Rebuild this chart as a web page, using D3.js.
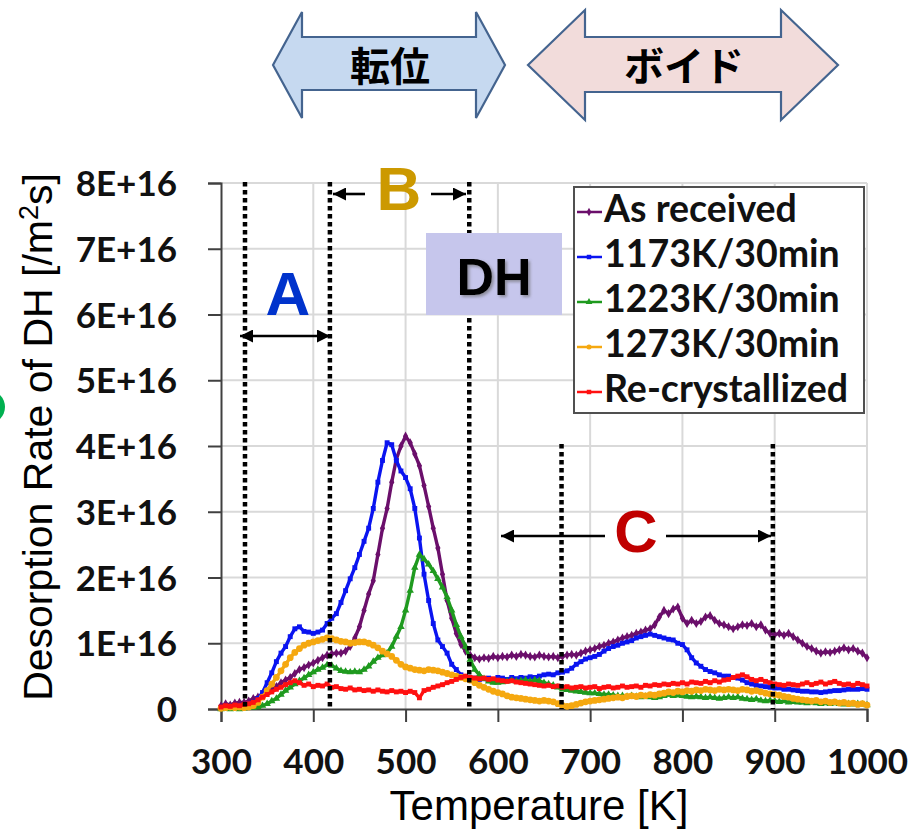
<!DOCTYPE html>
<html><head><meta charset="utf-8">
<script src="https://cdn.jsdelivr.net/npm/d3@7"></script>
<style>
html,body{margin:0;padding:0;background:#fff;}
svg{display:block;}
</style></head>
<body>
<svg id="chart" width="912" height="829"></svg>
<script>
// ---------- DATA (values in units of 1E+16 /m2s) ----------
const temperatures = d3.range(300, 1001, 5);
const seriesNames = ["As received","1173K/30min","1223K/30min","1273K/30min","Re-crystallized"];
const seriesColors = ["#6b0f6b","#0a14f0","#1f9a1f","#f5a810","#ff1010"];
const yTickValues = [0,1,2,3,4,5,6,7,8];
const xTickValues = [300,400,500,600,700,800,900,1000];

const asReceived = [0.05,0.08,0.06,0.09,0.10,0.10,0.12,0.16,0.18,0.22,0.26,0.30,0.34,0.40,0.44,0.48,0.54,0.60,0.63,0.67,
0.70,0.74,0.78,0.82,0.84,0.85,0.85,0.88,0.95,1.08,1.25,1.50,1.75,1.95,2.35,2.75,3.05,3.45,3.80,4.00,
4.15,4.05,3.88,3.70,3.40,3.08,2.75,2.45,2.05,1.65,1.38,1.15,0.98,0.88,0.82,0.78,0.76,0.78,0.77,0.80,
0.78,0.80,0.79,0.82,0.80,0.83,0.82,0.80,0.79,0.82,0.80,0.79,0.80,0.78,0.80,0.82,0.83,0.82,0.85,0.88,
0.90,0.92,0.95,0.97,1.00,1.02,1.05,1.08,1.10,1.12,1.15,1.17,1.20,1.22,1.28,1.40,1.50,1.45,1.52,1.55,
1.38,1.30,1.35,1.30,1.33,1.40,1.42,1.35,1.30,1.28,1.25,1.22,1.25,1.28,1.27,1.30,1.25,1.28,1.20,1.15,
1.13,1.15,1.12,1.15,1.10,1.05,1.00,0.95,0.92,0.88,0.85,0.87,0.86,0.88,0.90,0.93,0.90,0.92,0.88,0.85,0.78];

const k1173 = [0.02,0.03,0.02,0.04,0.05,0.06,0.08,0.10,0.16,0.25,0.40,0.55,0.72,0.85,0.95,1.10,1.22,1.25,1.18,1.17,
1.15,1.17,1.20,1.30,1.38,1.45,1.62,1.80,1.98,2.15,2.35,2.55,2.75,3.05,3.45,3.78,4.05,4.02,3.78,3.62,
3.52,3.35,3.05,2.60,2.05,1.65,1.30,1.05,0.95,0.85,0.68,0.60,0.52,0.48,0.46,0.47,0.45,0.46,0.47,0.45,
0.48,0.47,0.45,0.48,0.46,0.48,0.47,0.49,0.48,0.50,0.52,0.53,0.52,0.55,0.56,0.58,0.62,0.68,0.72,0.76,
0.78,0.80,0.83,0.88,0.92,0.95,0.97,1.00,1.02,1.04,1.08,1.10,1.12,1.14,1.12,1.10,1.08,1.06,1.05,1.00,
0.98,0.90,0.78,0.70,0.65,0.60,0.57,0.55,0.52,0.50,0.50,0.48,0.47,0.44,0.40,0.38,0.36,0.35,0.34,0.33,
0.32,0.32,0.30,0.30,0.29,0.28,0.27,0.27,0.26,0.26,0.25,0.26,0.27,0.28,0.28,0.29,0.30,0.30,0.30,0.31,0.30];

const k1223 = [0.00,0.01,0.00,0.01,0.00,0.01,0.02,0.02,0.03,0.05,0.08,0.12,0.16,0.22,0.28,0.33,0.38,0.43,0.47,0.52,
0.56,0.60,0.63,0.67,0.66,0.62,0.58,0.57,0.56,0.57,0.56,0.60,0.65,0.72,0.78,0.82,0.85,0.95,1.10,1.25,
1.50,1.80,2.15,2.35,2.28,2.20,2.10,1.98,1.85,1.70,1.50,1.28,1.10,0.95,0.75,0.60,0.52,0.46,0.42,0.40,
0.40,0.41,0.42,0.43,0.42,0.43,0.44,0.42,0.44,0.43,0.40,0.38,0.36,0.33,0.30,0.29,0.28,0.27,0.26,0.25,
0.24,0.24,0.23,0.22,0.22,0.21,0.20,0.20,0.19,0.20,0.19,0.18,0.19,0.18,0.17,0.18,0.20,0.22,0.20,0.21,
0.20,0.19,0.18,0.19,0.18,0.17,0.18,0.17,0.16,0.17,0.18,0.17,0.18,0.16,0.15,0.14,0.15,0.13,0.12,0.13,
0.12,0.11,0.12,0.10,0.11,0.10,0.10,0.09,0.10,0.09,0.08,0.09,0.08,0.09,0.08,0.07,0.08,0.07,0.08,0.07,0.06];

const k1273 = [0.01,0.02,0.03,0.02,0.03,0.02,0.03,0.05,0.10,0.18,0.28,0.38,0.48,0.58,0.68,0.78,0.86,0.92,0.97,1.00,
1.02,1.04,1.06,1.08,1.07,1.05,1.03,1.02,1.00,1.01,1.02,1.02,1.00,0.97,0.93,0.88,0.84,0.80,0.74,0.68,
0.64,0.62,0.60,0.59,0.58,0.60,0.59,0.58,0.56,0.54,0.52,0.50,0.48,0.46,0.44,0.40,0.36,0.33,0.30,0.27,
0.25,0.23,0.20,0.18,0.17,0.16,0.15,0.14,0.13,0.12,0.13,0.12,0.11,0.08,0.05,0.04,0.05,0.07,0.09,0.11,
0.12,0.13,0.14,0.15,0.16,0.17,0.18,0.17,0.19,0.20,0.19,0.21,0.20,0.22,0.21,0.23,0.24,0.26,0.25,0.27,
0.26,0.28,0.27,0.29,0.28,0.30,0.29,0.28,0.30,0.29,0.30,0.29,0.28,0.30,0.29,0.27,0.28,0.26,0.24,0.23,
0.22,0.21,0.19,0.18,0.16,0.15,0.14,0.13,0.12,0.13,0.11,0.12,0.10,0.11,0.09,0.10,0.08,0.09,0.07,0.08,0.06];

const recrystallized = [0.03,0.05,0.04,0.06,0.05,0.07,0.08,0.10,0.14,0.18,0.22,0.26,0.30,0.33,0.37,0.40,0.43,0.40,0.36,0.38,
0.34,0.36,0.35,0.38,0.33,0.34,0.31,0.30,0.32,0.29,0.30,0.28,0.29,0.27,0.29,0.27,0.26,0.28,0.26,0.27,
0.25,0.27,0.25,0.17,0.28,0.30,0.33,0.35,0.37,0.40,0.42,0.45,0.48,0.50,0.48,0.47,0.46,0.47,0.45,0.46,
0.44,0.43,0.42,0.43,0.41,0.40,0.39,0.38,0.37,0.36,0.35,0.36,0.34,0.35,0.33,0.34,0.32,0.33,0.34,0.32,
0.33,0.34,0.31,0.33,0.34,0.32,0.33,0.35,0.33,0.34,0.35,0.33,0.36,0.35,0.37,0.36,0.38,0.37,0.39,0.38,
0.40,0.38,0.41,0.40,0.39,0.42,0.40,0.43,0.41,0.44,0.45,0.48,0.50,0.52,0.49,0.45,0.43,0.45,0.42,0.40,
0.38,0.37,0.36,0.38,0.37,0.36,0.38,0.40,0.37,0.39,0.41,0.38,0.40,0.42,0.39,0.37,0.38,0.36,0.39,0.37,0.35];

const allSeries = [asReceived, k1173, k1223, k1273, recrystallized];

// annotation temperatures
const dottedFull = [326, 418, 569];
const dottedLow = [669, 898];

// ---------- DRAW ----------
const svg = d3.select("#chart");
const x = d3.scaleLinear().domain([300,1000]).range([221,867]);
const y = d3.scaleLinear().domain([0,8e16]).range([709,183]);
const E = 1e16;

const defs = svg.append("defs");
const f = defs.append("filter").attr("id","shadow").attr("x","-20%").attr("y","-20%").attr("width","140%").attr("height","140%");
f.append("feDropShadow").attr("dx",2).attr("dy",2).attr("stdDeviation",1.5).attr("flood-color","#666").attr("flood-opacity",0.6);

// top double arrows
function dblArrow(x0, x1, headW, yTop, yBot, shaftTop, shaftBot, fill) {
  const ym = (yTop + yBot) / 2;
  const p = [[x0,ym],[x0+headW,yTop],[x0+headW,shaftTop],[x1-headW,shaftTop],[x1-headW,yTop],[x1,ym],
             [x1-headW,yBot],[x1-headW,shaftBot],[x0+headW,shaftBot],[x0+headW,yBot]];
  svg.append("path").attr("d", "M" + p.map(d => d.join(",")).join("L") + "Z")
    .attr("fill", fill).attr("stroke", "#44648f").attr("stroke-width", 2.2).attr("stroke-linejoin","miter");
}
dblArrow(273, 505, 29, 12, 118, 37, 90, "#c6d9f0");
dblArrow(528, 838, 57, 10, 120, 37, 92, "#f2dcdb");
svg.append("text").attr("x", 390).attr("y", 81).attr("text-anchor","middle")
  .attr("font-family","'Noto Sans CJK JP'").attr("font-weight",700).attr("font-size",40).attr("fill","#000").text("転位");
svg.append("text").attr("x", 684).attr("y", 81).attr("text-anchor","middle")
  .attr("font-family","'Noto Sans CJK JP'").attr("font-weight",700).attr("font-size",40).attr("fill","#000").text("ボイド");

// green circle at left edge
svg.append("circle").attr("cx",-12).attr("cy",407).attr("r",17).attr("fill","#00b050");

// gridlines
const grid = svg.append("g");
grid.selectAll("line.h").data(yTickValues.slice(1)).join("line")
  .attr("x1", x(300)).attr("x2", x(1000)).attr("y1", d => y(d*E)).attr("y2", d => y(d*E))
  .attr("stroke","#d9d9d9").attr("stroke-width",2);
grid.selectAll("line.v").data(xTickValues.slice(1)).join("line")
  .attr("x1", d => x(d)).attr("x2", d => x(d)).attr("y1", y(0)).attr("y2", y(8*E))
  .attr("stroke","#d9d9d9").attr("stroke-width",2);

// axes
const yAxis = svg.append("g").attr("transform", `translate(${x(300)},0)`)
  .call(d3.axisLeft(y).tickValues(yTickValues.map(v => v*E)).tickSize(13).tickPadding(31)
    .tickFormat(d => d === 0 ? "0" : (d/E) + "E+16"));
const xAxis = svg.append("g").attr("transform", `translate(0,${y(0)})`)
  .call(d3.axisBottom(x).tickValues(xTickValues).tickSize(13).tickPadding(30).tickFormat(d3.format("d")));
[yAxis, xAxis].forEach(a => {
  a.select(".domain").attr("stroke","#404040").attr("stroke-width",2);
  a.selectAll(".tick line").attr("stroke","#404040").attr("stroke-width",2);
  a.selectAll(".tick text").attr("font-family","Lato").attr("font-weight",700).attr("font-size",35).attr("fill","#111");
});
yAxis.selectAll(".tick text").attr("dy","0.36em");
xAxis.selectAll(".tick text").attr("dy","0.62em");

// axis titles
svg.append("text").attr("x", 539).attr("y", 820).attr("text-anchor","middle")
  .attr("font-family","'Liberation Sans'").attr("font-size",42).attr("fill","#000").text("Temperature [K]");
const yt = svg.append("text").attr("transform","translate(52,437) rotate(-90)").attr("text-anchor","middle")
  .attr("font-family","'Liberation Sans'").attr("font-size",41).attr("fill","#000");
yt.append("tspan").text("Desorption Rate of DH [/m");
yt.append("tspan").attr("dy",-14).attr("font-size",27).text("2");
yt.append("tspan").attr("dy",14).text("s]");

// series
const symbols = [d3.symbolDiamond, d3.symbolSquare, d3.symbolTriangle, d3.symbolCircle, d3.symbolSquare];
const line = d3.line().x((d,i) => x(temperatures[i])).y(d => y(d*E));
allSeries.forEach((s, k) => {
  const g = svg.append("g");
  g.append("path").attr("d", line(s)).attr("fill","none").attr("stroke", seriesColors[k])
    .attr("stroke-width", 3.4).attr("stroke-linejoin","round");
  g.selectAll("path.m").data(s).join("path").attr("class","m")
    .attr("transform", (d,i) => `translate(${x(temperatures[i])},${y(d*E)})`)
    .attr("d", d3.symbol().type(symbols[k]).size(k === 3 ? 36 : 24)).attr("fill", seriesColors[k]);
});

// dotted lines
const dot = {stroke:"#000", "stroke-width":4.5, "stroke-dasharray":"4.5,3.5"};
function applyAttrs(sel, o){ Object.entries(o).forEach(([k,v]) => sel.attr(k,v)); return sel; }
dottedFull.forEach(t => applyAttrs(svg.append("line").attr("x1",x(t)).attr("x2",x(t)).attr("y1",182).attr("y2",709), dot));
dottedLow.forEach(t => applyAttrs(svg.append("line").attr("x1",x(t)).attr("x2",x(t)).attr("y1",444).attr("y2",709), dot));

// arrow marker
defs.append("marker").attr("id","ah").attr("viewBox","0 0 10 10").attr("refX",10).attr("refY",5)
  .attr("markerWidth",5).attr("markerHeight",5).attr("orient","auto-start-reverse").attr("markerUnits","strokeWidth")
  .append("path").attr("d","M0,0L10,5L0,10Z").attr("fill","#000");
function arrowLine(xa, xb, yy, start, end) {
  const l = svg.append("line").attr("x1",xa).attr("x2",xb).attr("y1",yy).attr("y2",yy)
    .attr("stroke","#000").attr("stroke-width",2.6);
  if (start) l.attr("marker-start","url(#ah)");
  if (end) l.attr("marker-end","url(#ah)");
}
// A
arrowLine(240, 330, 336, true, true);
svg.append("text").attr("x",288).attr("y",315).attr("text-anchor","middle").attr("font-family","'Liberation Sans'")
  .attr("font-weight",700).attr("font-size",62).attr("fill","#0033cc").text("A");
// B
arrowLine(365, 333, 194, false, true);
arrowLine(431, 466, 194, false, true);
svg.append("text").attr("x",399).attr("y",210).attr("text-anchor","middle").attr("font-family","'Liberation Sans'")
  .attr("font-weight",700).attr("font-size",62).attr("fill","#cc9900").text("B");
// C
arrowLine(605, 501, 536, false, true);
arrowLine(666, 771, 536, false, true);
svg.append("text").attr("x",636).attr("y",552).attr("text-anchor","middle").attr("font-family","'Liberation Sans'")
  .attr("font-weight",700).attr("font-size",60).attr("fill","#c00000").text("C");

// DH box
svg.append("rect").attr("x",426).attr("y",233).attr("width",136).attr("height",82).attr("fill","#c6c6ec");
svg.append("text").attr("x",494).attr("y",295).attr("text-anchor","middle").attr("font-family","'Liberation Sans'")
  .attr("font-weight",700).attr("font-size",52).attr("fill","#000").attr("filter","url(#shadow)").text("DH");

// legend
const lg = svg.append("g");
lg.append("rect").attr("x",574).attr("y",187).attr("width",290).attr("height",226)
  .attr("fill","#fff").attr("stroke","#505050").attr("stroke-width",2);
seriesNames.forEach((n, k) => {
  const by = 222 + k*45;
  lg.append("line").attr("x1",577).attr("x2",602).attr("y1",by-10).attr("y2",by-10)
    .attr("stroke",seriesColors[k]).attr("stroke-width",2.5);
  lg.append("path").attr("transform",`translate(589,${by-10})`)
    .attr("d", d3.symbol().type(symbols[k]).size(20)).attr("fill",seriesColors[k]);
  lg.append("text").attr("x",604).attr("y",by).attr("font-family","Lato").attr("font-weight",700)
    .attr("font-size",37.5).attr("fill","#111").text(n);
});
</script>
</body></html>
